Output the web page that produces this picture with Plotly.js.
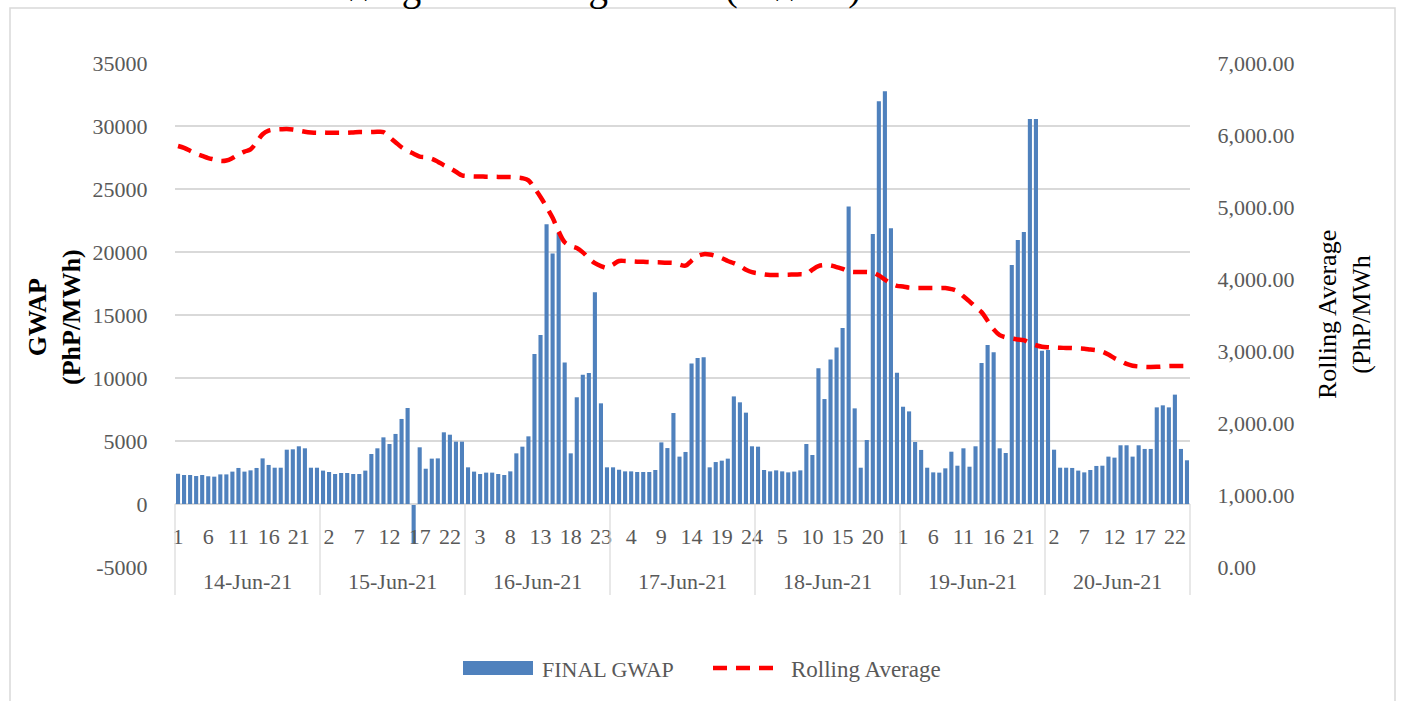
<!DOCTYPE html>
<html>
<head>
<meta charset="utf-8">
<script src="https://cdn.plot.ly/plotly-3.0.1.min.js"></script>
<style>html,body{margin:0;padding:0;background:#fff;}#chart{width:1405px;height:701px;}</style>
</head>
<body>
<div id="chart"></div>
<script>
// ---- data ----
const dates = ["14-Jun-21","15-Jun-21","16-Jun-21","17-Jun-21","18-Jun-21","19-Jun-21","20-Jun-21"];
const hours = [1,2,3,4,5,6,7,8,9,10,11,12,13,14,15,16,17,18,19,20,21,22,23,24];

const gwap14 = [2400,2300,2300,2220,2300,2200,2170,2350,2350,2570,2860,2570,2670,2860,3620,3100,2880,2880,4310,4340,4580,4420,2880,2880];
const gwap15 = [2650,2540,2380,2460,2460,2380,2380,2650,3970,4420,5290,4760,5560,6750,7620,-3150,4500,2800,3600,3620,5690,5500,4950,4950];
const gwap16 = [2910,2570,2380,2490,2490,2380,2300,2590,4020,4550,5370,11900,13410,22200,19890,21500,11240,4020,8470,10260,10400,16800,7990,2910];
const gwap17 = [2910,2720,2590,2590,2540,2540,2540,2700,4890,4440,7220,3760,4130,11160,11590,11640,2910,3330,3440,3600,8540,8070,7250,4580];
const gwap18 = [4550,2700,2590,2670,2590,2510,2570,2670,4760,3890,10770,8330,11460,12430,13970,23620,7590,2880,5080,21430,31960,32750,21880,10420];
const gwap19 = [7720,7350,4920,4290,2880,2510,2490,2830,4150,3040,4420,2960,4580,11190,12620,12040,4420,4050,18970,20950,21590,30560,30560,12170];
const gwap20 = [12220,4310,2880,2880,2860,2650,2510,2700,3020,3040,3760,3680,4660,4660,3760,4660,4370,4370,7670,7830,7670,8680,4370,3470];

const roll14 = [5847,5820,5780,5740,5710,5680,5660,5640,5645,5680,5730,5770,5800,5900,6010,6060,6075,6080,6083,6075,6060,6045,6035,6030];
const roll15 = [6035,6030,6030,6030,6030,6035,6040,6040,6042,6045,6040,5970,5900,5830,5780,5740,5700,5690,5670,5630,5580,5540,5490,5440];
const roll16 = [5430,5425,5425,5420,5420,5418,5417,5415,5410,5400,5370,5260,5140,5000,4850,4660,4510,4460,4430,4370,4290,4220,4180,4155];
const roll17 = [4200,4250,4250,4245,4240,4238,4235,4232,4230,4225,4222,4200,4185,4255,4320,4345,4340,4320,4290,4250,4220,4180,4130,4095];
const roll18 = [4080,4065,4056,4056,4058,4060,4062,4065,4069,4130,4180,4194,4190,4165,4140,4105,4097,4097,4097,4090,4050,3990,3940,3905];
const roll19 = [3895,3880,3875,3875,3875,3875,3875,3875,3860,3830,3760,3690,3610,3540,3420,3300,3220,3190,3175,3160,3150,3110,3080,3060];
const roll20 = [3052,3048,3045,3042,3040,3035,3030,3020,3012,2990,2950,2900,2860,2820,2795,2785,2780,2778,2780,2785,2790,2792,2792,2792];

const leftTickVals = [-5000,0,5000,10000,15000,20000,25000,30000,35000];
const leftTickText = ["-5000","0","5000","10000","15000","20000","25000","30000","35000"];
const rightTickVals = [0,1000,2000,3000,4000,5000,6000,7000];

// ---- build series ----
const gwapByDay = [gwap14,gwap15,gwap16,gwap17,gwap18,gwap19,gwap20];
const rollByDay = [roll14,roll15,roll16,roll17,roll18,roll19,roll20];
const cats = [], gwap = [], roll = [], hourOf = [];
dates.forEach((d, di) => {
  hours.forEach((h, hi) => {
    cats.push(d + " " + h);
    hourOf.push(String(h));
    gwap.push(gwapByDay[di][hi]);
    roll.push(rollByDay[di][hi]);
  });
});
const N = cats.length;
const tickCats = cats.filter((c, i) => i % 5 === 0);
const tickHours = hourOf.filter((c, i) => i % 5 === 0);

const FONT = "Liberation Serif, Times New Roman, serif";
const GRAY = "#595959";
const GRID = "#d9d9d9";

const traces = [
  {type: "bar", name: "FINAL GWAP", x: cats, y: gwap, marker: {color: "#4F81BD"}, yaxis: "y", showlegend: false},
  {type: "scatter", mode: "lines", name: "Rolling Average", x: cats, y: roll, yaxis: "y2",
   line: {color: "#FF0000", width: 4.5, dash: "14px,9px", shape: "spline", smoothing: 1}, showlegend: false}
];

// pixel helpers for paper coordinates (plot area: x 175..1190, y 63..567)
const PL = 175, PR = 1190, PT = 63, PB = 567;
const px = v => (v - PL) / (PR - PL);
const py = v => (PB - v) / (PB - PT);

const shapes = [];
// outer chart border
shapes.push({type: "rect", xref: "paper", yref: "paper", x0: px(10), x1: px(1395), y0: py(720), y1: py(8),
  line: {color: GRID, width: 1.5}, fillcolor: "rgba(0,0,0,0)", layer: "below"});
// category group dividers
for (let d = 0; d <= dates.length; d++) {
  const xp = (d * hours.length) / N;
  shapes.push({type: "line", xref: "paper", yref: "paper", x0: xp, x1: xp, y0: py(504), y1: py(595),
    line: {color: GRID, width: 1.2}});
}
// legend symbols
shapes.push({type: "rect", xref: "paper", yref: "paper", x0: px(463), x1: px(533), y0: py(675), y1: py(661),
  line: {width: 0}, fillcolor: "#4F81BD"});
shapes.push({type: "line", xref: "paper", yref: "paper", x0: px(713), x1: px(776), y0: py(668), y1: py(668),
  line: {color: "#FF0000", width: 4.5, dash: "14px,9px"}});

const annotations = [];
// date labels
dates.forEach((d, di) => {
  annotations.push({text: d, xref: "x", yref: "paper", x: di * hours.length + (hours.length - 1) / 2, y: py(581),
    xanchor: "center", yanchor: "middle", showarrow: false, font: {family: FONT, size: 22, color: GRAY}});
});
// axis titles
annotations.push({text: "<b>GWAP</b><br><b>(PhP/MWh)</b>", xref: "paper", yref: "paper", x: px(54), y: py(317),
  xanchor: "center", yanchor: "middle", textangle: -90, showarrow: false, font: {family: FONT, size: 26, color: "#000"}});
annotations.push({text: "Rolling Average<br>(PhP/MWh", xref: "paper", yref: "paper", x: px(1344), y: py(315),
  xanchor: "center", yanchor: "middle", textangle: -90, showarrow: false, font: {family: FONT, size: 26, color: "#000"}});
// legend labels
annotations.push({text: "FINAL GWAP", xref: "paper", yref: "paper", x: px(540), y: py(669),
  xanchor: "left", yanchor: "middle", showarrow: false, font: {family: FONT, size: 22, color: GRAY}});
annotations.push({text: "Rolling Average", xref: "paper", yref: "paper", x: px(789), y: py(669),
  xanchor: "left", yanchor: "middle", showarrow: false, font: {family: FONT, size: 23, color: GRAY}});
// title, cropped at the very top as in the source image
annotations.push({text: "Generator Weighted Average Price (GWAP)", xref: "paper", yref: "paper", x: px(173), y: py(-37),
  xanchor: "left", yanchor: "top", showarrow: false, font: {family: FONT, size: 39, color: "#000"}});

const layout = {
  width: 1405, height: 701,
  margin: {l: PL, r: 1405 - PR, t: PT, b: 701 - PB, pad: 0},
  paper_bgcolor: "#fff", plot_bgcolor: "#fff",
  bargap: 0.32,
  showlegend: false,
  xaxis: {type: "category", range: [-0.5, N - 0.5], tickmode: "array", tickvals: tickCats, ticktext: tickHours,
    tickangle: 0, ticks: "outside", ticklen: 12, tickcolor: "rgba(0,0,0,0)",
    tickfont: {family: FONT, size: 22, color: GRAY}, showgrid: false, zeroline: false,
    showline: true, linecolor: GRID, linewidth: 1.2, anchor: "free", position: py(504), fixedrange: true},
  yaxis: {range: [-5000, 35000], tickmode: "array", tickvals: leftTickVals, ticktext: leftTickText,
    ticks: "outside", ticklen: 22, tickcolor: "rgba(0,0,0,0)", showgrid: true, gridcolor: GRID, gridwidth: 1.2,
    zeroline: true, zerolinecolor: GRID, zerolinewidth: 1.2, showline: false,
    tickfont: {family: FONT, size: 22, color: GRAY}},
  yaxis2: {range: [0, 7000], overlaying: "y", side: "right", tickmode: "array", tickvals: rightTickVals,
    tickformat: ",.2f", ticks: "outside", ticklen: 22, tickcolor: "rgba(0,0,0,0)",
    showgrid: false, zeroline: false, showline: false, tickfont: {family: FONT, size: 22, color: GRAY}},
  shapes: shapes,
  annotations: annotations
};

Plotly.newPlot("chart", traces, layout, {staticPlot: true, displayModeBar: false});
</script>
</body>
</html>
